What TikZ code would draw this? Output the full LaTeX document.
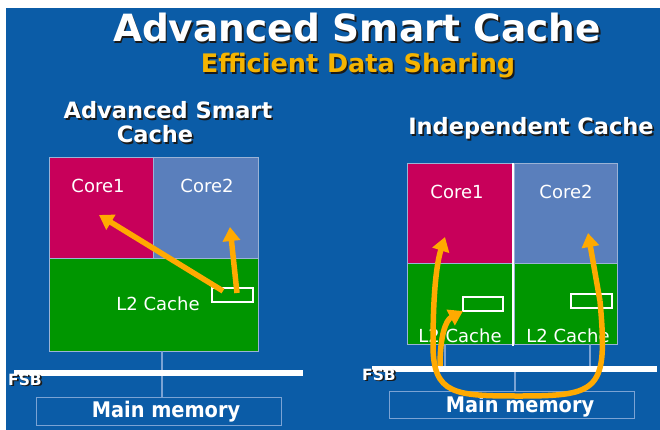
\documentclass[tikz,border=0pt]{standalone}
\usepackage{fontspec}
\setmainfont{DejaVu Sans}
\usetikzlibrary{arrows.meta}
\definecolor{bgblue}{HTML}{0B5CA7}
\definecolor{coremag}{HTML}{C8005A}
\definecolor{coreblue}{HTML}{5A7FBC}
\definecolor{cachegreen}{HTML}{009600}
\definecolor{arrowor}{HTML}{FFAA00}
\definecolor{subor}{HTML}{F5B400}
\definecolor{outl}{HTML}{9AB3D6}
\definecolor{thinl}{HTML}{7BA3D4}
\definecolor{shadowc}{HTML}{1A1A1A}
\newcommand{\shd}[1]{\rlap{\kern1.6pt\raisebox{-1.6pt}{\textcolor{shadowc}{#1}}}#1}
\begin{document}
\begin{tikzpicture}[x=1pt,y=-1pt,
  txt/.style={anchor=base,inner sep=0pt,outer sep=0pt,text=white},
  ttl/.style={txt,font=\bfseries\fontsize{37.5}{40}\selectfont},
  sub/.style={txt,text=subor,font=\bfseries\fontsize{25.5}{28}\selectfont},
  hdr/.style={txt,font=\bfseries\fontsize{22.5}{25}\selectfont},
  lbl/.style={txt,font=\fontsize{18}{20}\selectfont},
  memt/.style={txt,font=\bfseries\fontsize{21.5}{24}\selectfont,xscale=0.9},
  fsbt/.style={txt,font=\bfseries\fontsize{15.5}{17}\selectfont},
  blk/.style={draw=outl,line width=0.8pt,inner sep=0pt,outer sep=0pt,anchor=north west},
  smallr/.style={draw=white,line width=1.8pt,inner sep=0pt,outer sep=0pt,anchor=north west},
  memb/.style={draw=thinl,line width=1pt,inner sep=0pt,outer sep=0pt,anchor=north west},
  thin/.style={draw=thinl,line width=1.1pt},
  fsb/.style={draw=white,line width=6pt},
  oarrow/.style={draw=arrowor,line width=5.5pt,-{Triangle[length=14pt,width=17pt]}}
]
\useasboundingbox (0,0) rectangle (660,430);
\fill[white] (0,0) rectangle (660,430);
\fill[bgblue] (6,8) rectangle (660,430);

% titles
\node[ttl] (title) at (357,42) {\shd{Advanced Smart Cache}};
\node[sub] (subtitle) at (358,73) {\shd{Efficient Data Sharing}};
\node[hdr] (hdrA) at (168,119) {\shd{Advanced Smart}};
\node[hdr] (hdrB) at (155,143) {\shd{Cache}};
\node[hdr] (hdrC) at (531,135) {\shd{Independent Cache}};

% ---------- left diagram ----------
\node[blk,fill=coremag,minimum width=104pt,minimum height=101pt] (c1L) at (49,157) {};
\node[blk,fill=coreblue,minimum width=105pt,minimum height=101pt] (c2L) at (153,157) {};
\node[blk,fill=cachegreen,minimum width=209pt,minimum height=93pt] (l2L) at (49,258) {};
\node[lbl] (c1Lt) at (98,193) {Core1};
\node[lbl] (c2Lt) at (207,193) {Core2};
\node[lbl] (l2Lt) at (158,310) {L2 Cache};
\node[smallr,minimum width=41pt,minimum height=14pt] (srL) at (212,288) {};
\coordinate (busL1) at (162,351);
\coordinate (busL2) at (162,397);
\draw[thin] (busL1) -- (busL2);
\coordinate (fsbLa) at (14,373);
\coordinate (fsbLb) at (303,373);
\draw[fsb] (fsbLa) -- (fsbLb);
\node[fsbt] (fsbL) at (25,385) {\shd{FSB}};
\node[memb,minimum width=245pt,minimum height=28pt] (memL) at (36,397) {};
\node[memt] (memLt) at (166,417) {Main memory};
\coordinate (aL1s) at (223,291);
\coordinate (aL1e) at (99,215);
\coordinate (aL2s) at (237,293);
\coordinate (aL2e) at (230,227);
\draw[oarrow] (aL1s) -- (aL1e);
\draw[oarrow] (aL2s) -- (aL2e);

% ---------- right diagram ----------
\node[blk,fill=coremag,minimum width=105pt,minimum height=100pt] (c1R) at (407,163) {};
\node[blk,fill=coreblue,minimum width=103pt,minimum height=100pt] (c2R) at (514,163) {};
\node[blk,fill=cachegreen,minimum width=105pt,minimum height=81pt] (l2aR) at (407,263) {};
\node[blk,fill=cachegreen,minimum width=103pt,minimum height=81pt] (l2bR) at (514,263) {};
\coordinate (sepT) at (513,163);
\coordinate (sepB) at (513,346);
\draw[white,line width=2.5pt] (sepT) -- (sepB);
\node[lbl] (c1Rt) at (457,199) {Core1};
\node[lbl] (c2Rt) at (566,199) {Core2};
\node[lbl] (l2aRt) at (460,342) {L2 Cache};
\node[lbl] (l2bRt) at (568,342) {L2 Cache};
\node[smallr,minimum width=40pt,minimum height=14pt] (sraR) at (463,297) {};
\node[smallr,minimum width=41pt,minimum height=14pt] (srbR) at (571,294) {};
\coordinate (busR1a) at (445,344);
\coordinate (busR1b) at (445,368);
\coordinate (busR2a) at (590,344);
\coordinate (busR2b) at (590,368);
\coordinate (busR3a) at (515,368);
\coordinate (busR3b) at (515,391);
\draw[thin] (busR1a) -- (busR1b);
\draw[thin] (busR2a) -- (busR2b);
\draw[thin] (busR3a) -- (busR3b);
\coordinate (fsbRa) at (372,368.5);
\coordinate (fsbRb) at (657,368.5);
\draw[fsb] (fsbRa) -- (fsbRb);
\node[fsbt] (fsbR) at (379,380) {\shd{FSB}};
\node[memb,minimum width=245pt,minimum height=27pt] (memR) at (389,391) {};
\node[memt] (memRt) at (520,412) {Main memory};
% orange paths
\coordinate (oR0) at (600,301);
\coordinate (oRup) at (588,233);
\coordinate (oRbot) at (520,396);
\coordinate (oRl) at (433,345);
\coordinate (oRc1) at (445,237);
\coordinate (oBr0) at (440,366);
\coordinate (oBr1) at (463,311);
\draw[oarrow] (oR0) -- (oRup);
\draw[oarrow] (oR0) .. controls (608,390) and (600,396) .. (oRbot)
  .. controls (455,396) and (433,395) .. (oRl)
  .. controls (433,290) and (437,262) .. (oRc1);
\draw[oarrow] (oBr0) .. controls (440,335) and (446,320) .. (oBr1);
\end{tikzpicture}
\end{document}
